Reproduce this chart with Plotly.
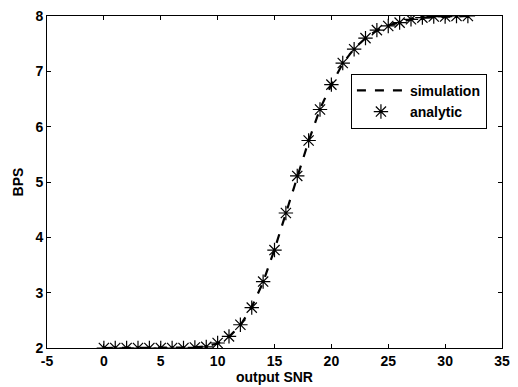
import plotly.graph_objects as go

snr = list(range(0, 33))
analytic = [2.0, 2.0, 2.0, 2.0, 2.0, 2.0, 2.0, 2.0, 2.01, 2.02, 2.09, 2.21, 2.42, 2.73, 3.20, 3.77,
            4.44, 5.11, 5.75, 6.31, 6.76, 7.15, 7.40, 7.60, 7.745, 7.82, 7.88, 7.94, 7.97, 7.99, 7.99, 8.0, 8.0]
simulation = [2.0, 2.0, 2.0, 2.0, 2.0, 2.0, 2.0, 2.0, 2.01, 2.03, 2.08, 2.20, 2.41, 2.74, 3.19, 3.78,
              4.43, 5.12, 5.74, 6.32, 6.76, 7.14, 7.41, 7.60, 7.74, 7.83, 7.89, 7.94, 7.97, 7.98, 7.99, 8.0, 8.0]

xticks = [-5, 0, 5, 10, 15, 20, 25, 30, 35]
yticks = [2, 3, 4, 5, 6, 7, 8]

FAM = "Liberation Sans, Arial, sans-serif"

fig = go.Figure()
fig.add_trace(go.Scatter(x=snr, y=simulation, mode="lines", name="<b>simulation</b>",
                         line=dict(color="black", width=2.2, dash="dash")))
fig.add_trace(go.Scatter(x=snr, y=analytic, mode="markers", name="<b>analytic</b>",
                         marker=dict(symbol="asterisk-open", size=12, color="black",
                                     line=dict(color="#333333", width=1.2))))

axis_common = dict(showgrid=False, zeroline=False, showline=True, linecolor="black", linewidth=1,
                   mirror="ticks", ticks="inside", ticklen=4, tickcolor="black",
                   tickfont=dict(family=FAM, size=14, color="black"))

fig.update_layout(
    width=518, height=387,
    margin=dict(l=47, r=8, t=16, b=35),
    paper_bgcolor="white", plot_bgcolor="white",
    font=dict(family=FAM, size=13, color="black"),
    showlegend=True,
    legend=dict(x=0.668, y=0.826, xanchor="left", yanchor="top",
                bgcolor="white", bordercolor="black", borderwidth=1,
                font=dict(family=FAM, size=14, color="black"),
                tracegroupgap=0, itemwidth=48),
)
fig.update_xaxes(range=[-5, 35], tickvals=xticks, ticktext=["<b>%d</b>" % v for v in xticks],
                 title=dict(text="<b>output SNR</b>", standoff=0, font=dict(family=FAM, size=14, color="black")),
                 **axis_common)
fig.update_yaxes(range=[2, 8], tickvals=yticks, ticktext=["<b>%d</b>" % v for v in yticks],
                 title=dict(text="<b>BPS</b>", standoff=8, font=dict(family=FAM, size=14, color="black")),
                 **axis_common)

fig.write_html("out.html", config={"displayModeBar": False},
               post_script="document.body.style.margin='0';document.body.style.padding='0';")
